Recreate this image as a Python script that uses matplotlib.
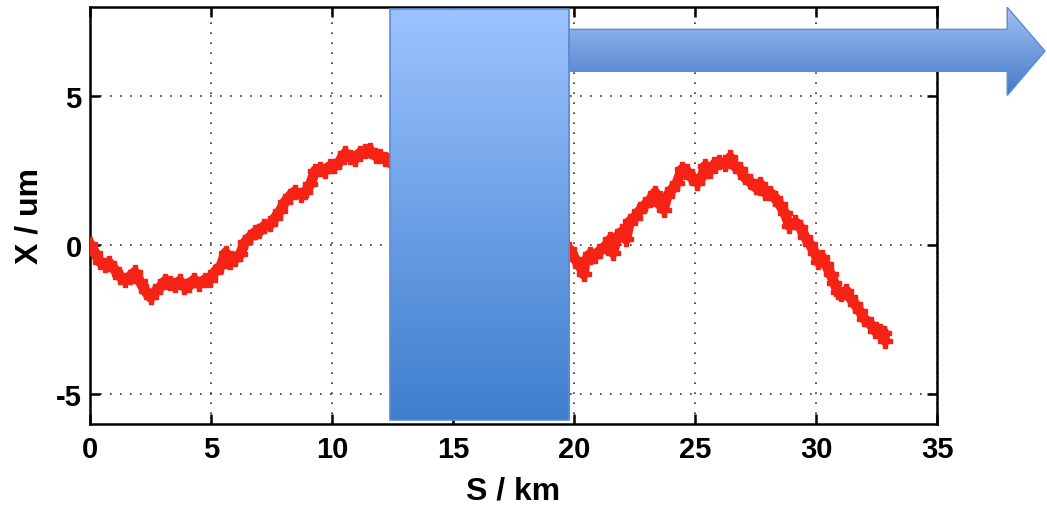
import numpy as np
import matplotlib
matplotlib.use('Agg')
import matplotlib.pyplot as plt
from matplotlib.colors import LinearSegmentedColormap
from matplotlib.patches import Polygon, Rectangle

# orbit offset along the line (part under the box is hidden)
s_left = [0.0, 0.2, 0.4, 0.6, 0.8, 1.0, 1.25, 1.45, 1.65, 1.85, 2.05, 2.3, 2.5, 2.7,
          2.9, 3.1, 3.3, 3.5, 3.7, 3.9, 4.1, 4.3, 4.5, 4.75, 4.95, 5.15, 5.4, 5.6,
          5.8, 6.0, 6.2, 6.4, 6.6, 6.8, 7.0, 7.2, 7.45, 7.65, 7.85, 8.05, 8.25, 8.45,
          8.7, 8.9, 9.1, 9.3, 9.5, 9.7, 9.9, 10.1, 10.3, 10.55, 10.75, 10.95, 11.15,
          11.35, 11.55, 11.8, 12.0, 12.2, 12.4]
x_left = [0.05, -0.25, -0.55, -0.65, -0.6, -0.8, -1.05, -1.15, -1.05, -0.9, -1.2, -1.55,
          -1.75, -1.55, -1.4, -1.2, -1.25, -1.35, -1.2, -1.4, -1.35, -1.15, -1.3, -1.15,
          -1.15, -0.9, -0.7, -0.25, -0.55, -0.45, -0.3, 0.1, 0.27, 0.43, 0.47, 0.65, 0.7,
          0.93, 1.15, 1.45, 1.65, 1.8, 1.7, 1.78, 2.05, 2.5, 2.55, 2.5, 2.65, 2.65, 2.8,
          3.1, 2.95, 2.9, 3.1, 3.15, 3.2, 3.0, 3.0, 2.9, 2.85]

s_right = [19.8, 20.05, 20.25, 20.4, 20.45, 20.65, 20.85, 21.05, 21.3, 21.5, 21.6, 21.8,
           22.0, 22.15, 22.3, 22.5, 22.7, 22.95, 23.15, 23.35, 23.55, 23.7, 23.85, 24.05,
           24.25, 24.45, 24.65, 24.85, 25.1, 25.3, 25.4, 25.6, 25.8, 26.0, 26.25, 26.45,
           26.65, 26.85, 27.05, 27.25, 27.5, 27.7, 27.9, 28.1, 28.3, 28.5, 28.7, 28.9,
           29.15, 29.35, 29.55, 29.75, 29.95, 30.1, 30.25, 30.4, 30.6, 30.75, 30.9, 31.05,
           31.25, 31.4, 31.6, 31.8, 32.0, 32.25, 32.45, 32.65, 32.8, 32.85]
x_right = [-0.13, -0.47, -0.7, -0.97, -0.57, -0.3, -0.35, -0.2, -0.03, 0.2, -0.25, 0.3,
           0.47, 0.2, 0.8, 0.93, 1.15, 1.37, 1.53, 1.77, 1.37, 1.2, 1.65, 1.88, 2.1, 2.55,
           2.5, 2.28, 2.1, 2.33, 2.65, 2.5, 2.72, 2.78, 2.72, 2.95, 2.65, 2.55, 2.28, 2.15,
           1.95, 2.05, 1.77, 1.77, 1.6, 1.37, 1.1, 0.65, 0.77, 0.6, 0.27, 0.03, -0.25, -0.57,
           -0.4, -0.63, -0.97, -1.25, -1.57, -1.63, -1.53, -1.75, -1.97, -2.2, -2.48, -2.65,
           -2.88, -2.88, -2.93, -3.2]

xticks = [0, 5, 10, 15, 20, 25, 30, 35]
yticks = [-5, 0, 5]

RED = '#f42316'
plt.rcParams['font.family'] = 'Liberation Sans'
plt.rcParams['font.weight'] = 'bold'
plt.rcParams['axes.unicode_minus'] = False

fig = plt.figure(figsize=(10.47, 5.10), dpi=100)
pos = [0.086, 0.1667, 0.809, 0.8176]
ax = fig.add_axes(pos)
xlim = (0, 35)
ylim = (-6, 8)

for s, x in [(s_left, x_left), (s_right, x_right)]:
    ax.plot(s, x, color=RED, lw=7.5, marker='P', ms=10, mec=RED, mfc=RED,
            solid_joinstyle='round', solid_capstyle='round', zorder=3)

ax.set_xlim(*xlim)
ax.set_ylim(*ylim)
ax.set_xticks(xticks)
ax.set_yticks(yticks)
ax.grid(True, color='#333333', linestyle=(0, (1, 5)), linewidth=1.2)
ax.tick_params(direction='in', length=7, width=1.8, top=True, right=True,
               labelsize=21, pad=8)
ax.tick_params(axis='y', pad=6)
for sp in ax.spines.values():
    sp.set_linewidth(1.8)
ax.set_xlabel('S / km', fontsize=23, fontweight='bold', labelpad=9)
ax.set_ylabel('X / um', fontsize=23, fontweight='bold', labelpad=8)

# overlay over whole figure sharing the same data coords, for the box and arrow
l, b, w, h = pos
ov = fig.add_axes([0, 0, 1, 1], zorder=5)
ov.patch.set_alpha(0)
ov.axis('off')
xr = xlim[1] - xlim[0]
yr = ylim[1] - ylim[0]
ox = (xlim[0] - l / w * xr, xlim[1] + (1 - l - w) / w * xr)
oy = (ylim[0] - b / h * yr, ylim[1] + (1 - b - h) / h * yr)

grad = np.linspace(0, 1, 256).reshape(-1, 1)
cm_box = LinearSegmentedColormap.from_list('box', ['#9cc3ff', '#3e7ecd'])
cm_arr = LinearSegmentedColormap.from_list('arr', ['#a2c2f5', '#4479c8'])

box = Rectangle((12.4, -5.87), 7.4, 13.79, facecolor='none', edgecolor='#5b8bd0', lw=1.2)
ov.add_patch(box)
im = ov.imshow(grad, extent=[12.4, 19.8, -5.87, 7.92], cmap=cm_box, aspect='auto',
               origin='upper', interpolation='bilinear')
im.set_clip_path(box)

arrow = Polygon([(19.8, 5.84), (37.9, 5.84), (37.9, 5.03), (39.46, 6.52),
                 (37.9, 7.99), (37.9, 7.25), (19.8, 7.25)],
                closed=True, facecolor='none', edgecolor='#5b8bd0', lw=1.0)
ov.add_patch(arrow)
im2 = ov.imshow(grad, extent=[19.8, 39.46, 5.03, 7.99], cmap=cm_arr, aspect='auto',
                origin='upper', interpolation='bilinear')
im2.set_clip_path(arrow)

ov.set_xlim(*ox)
ov.set_ylim(*oy)

fig.savefig('out.png', dpi=100)
